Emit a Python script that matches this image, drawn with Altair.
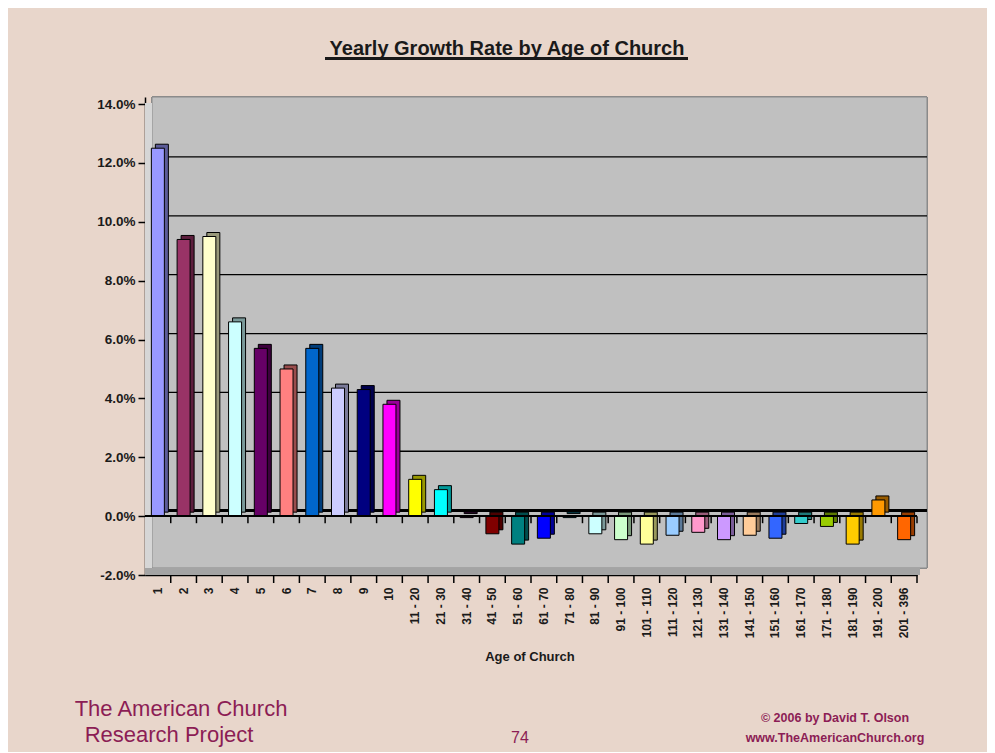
import altair as alt
import pandas as pd

categories = ["1", "2", "3", "4", "5", "6", "7", "8", "9", "10",
              "11 - 20", "21 - 30", "31 - 40", "41 - 50", "51 - 60", "61 - 70",
              "71 - 80", "81 - 90", "91 - 100", "101 - 110", "111 - 120",
              "121 - 130", "131 - 140", "141 - 150", "151 - 160", "161 - 170",
              "171 - 180", "181 - 190", "191 - 200", "201 - 396"]
growth = [0.125, 0.094, 0.095, 0.066, 0.057, 0.050, 0.057, 0.0435, 0.043, 0.038,
          0.0125, 0.009, -0.0005, -0.006, -0.0095, -0.0075, -0.0005, -0.006, -0.008,
          -0.0095, -0.0065, -0.0055, -0.008, -0.0065, -0.0075, -0.0025, -0.0035,
          -0.0095, 0.0055, -0.008]
colors = ["#9999FF", "#993366", "#FFFFCC", "#CCFFFF", "#660066", "#FF8080", "#0066CC",
          "#CCCCFF", "#000080", "#FF00FF", "#FFFF00", "#00FFFF", "#800080", "#800000",
          "#008080", "#0000FF", "#00CCFF", "#CCFFFF", "#CCFFCC", "#FFFF99", "#99CCFF",
          "#FF99CC", "#CC99FF", "#FFCC99", "#3366FF", "#33CCCC", "#99CC00", "#FFCC00",
          "#FF9900", "#FF6600"]
y_ticks = [-0.02, 0.0, 0.02, 0.04, 0.06, 0.08, 0.10, 0.12, 0.14]
grid_levels = [0.02, 0.04, 0.06, 0.08, 0.10, 0.12]

title_text = "Yearly Growth Rate by Age of Church"
x_title = "Age of Church"
footer_left = ["The American Church", "Research Project"]
page_number = "74"
footer_right = ["\u00a9 2006 by David T. Olson", "www.TheAmericanChurch.org"]

W, H = 772, 478
STEP = W / len(categories)
FONT = "Liberation Sans"
MAROON = "#8C1D55"

df = pd.DataFrame({"cat": categories, "val": growth})
grid_df = pd.DataFrame({"g": grid_levels})

x_enc = alt.X("cat:N", sort=categories, title=None,
              scale=alt.Scale(paddingInner=0.5, paddingOuter=0.25),
              axis=alt.Axis(labelAngle=270, labelAlign="right", labelBaseline="middle",
                            labelFont=FONT, labelFontSize=12, labelFontWeight="bold",
                            labelColor="#1a1a1a", labelPadding=12, ticks=False,
                            domainColor="black", domainWidth=1.5, grid=False))
y_scale = alt.Scale(domain=[-0.02, 0.1424], nice=False, zero=False)
y_enc = alt.Y("val:Q", scale=y_scale, title=None,
              axis=alt.Axis(values=y_ticks,
                            labelExpr="replace(format(datum.value, '.1%'), '\u2212', '-')",
                            labelFont=FONT,
                            labelFontSize=13.5, labelFontWeight="bold", labelColor="#1a1a1a",
                            tickSize=7, tickColor="black", tickWidth=1.5, labelPadding=3,
                            domainColor="black", domainWidth=1.5, grid=False))
color_enc = alt.Color("cat:N", sort=categories,
                      scale=alt.Scale(domain=categories, range=colors), legend=None)

# 3D wall decorations
wall = alt.Chart(df).mark_rect(color="#C0C0C0", stroke="#8a8a8a", strokeWidth=1).encode(
    x=alt.value(7), x2=alt.value(782), y=alt.value(0), y2=alt.value(471))
side = alt.Chart(df).mark_rect(color="#D6D6D6").encode(
    x=alt.value(0), x2=alt.value(7), y=alt.value(6), y2=alt.value(478))
floor = alt.Chart(df).mark_rect(color="#A4A4A4").encode(
    x=alt.value(0), x2=alt.value(775), y=alt.value(471), y2=alt.value(478))

grid = alt.Chart(grid_df).mark_rule(color="black", strokeWidth=1.3, yOffset=-6).encode(
    y=alt.Y("g:Q", scale=y_scale), x=alt.value(7), x2=alt.value(782))
zero_back = alt.Chart(df).mark_rule(color="black", strokeWidth=2, yOffset=-6).encode(
    y=alt.datum(0, scale=y_scale), x=alt.value(7), x2=alt.value(782))

bar_side = alt.Chart(df).mark_bar(size=13, xOffset=4, yOffset=-4, stroke="black",
                                  strokeWidth=1).encode(x=x_enc, y=y_enc, color=color_enc)
bar_shade = alt.Chart(df).mark_bar(size=13, xOffset=4, yOffset=-4, color="black",
                                   opacity=0.4).encode(x=x_enc, y=y_enc)
bar_front = alt.Chart(df).mark_bar(size=13, stroke="black", strokeWidth=1).encode(
    x=x_enc, y=y_enc, color=color_enc)

zero_front = alt.Chart(df).mark_rule(color="black", strokeWidth=1.5).encode(
    y=alt.datum(0, scale=y_scale), x=alt.value(0), x2=alt.value(W))
zero_ticks = alt.Chart(df).mark_rule(color="black", strokeWidth=1.5, xOffset=STEP / 2).encode(
    x=alt.X("cat:N", sort=categories), y=alt.datum(0, scale=y_scale), y2=alt.datum(-0.0024))
bottom_ticks = alt.Chart(df).mark_rule(color="black", strokeWidth=1.5, xOffset=STEP / 2).encode(
    x=alt.X("cat:N", sort=categories), y=alt.value(H), y2=alt.value(H + 8))

def text(t, x, y, size, color="#1a1a1a", weight="normal"):
    return alt.Chart(pd.DataFrame({"t": [t]})).mark_text(
        font=FONT, fontSize=size, fontWeight=weight, color=color,
        align="center", baseline="middle").encode(
        text="t:N", x=alt.value(x), y=alt.value(y))

title = text(title_text, 362, -48, 20, "#1a1a1a", "bold")
underline = alt.Chart(df).mark_rule(color="#1a1a1a", strokeWidth=1.6).encode(
    x=alt.value(180), x2=alt.value(543), y=alt.value(-38.5))
xtitle = text(x_title, 385, 560, 13, "#1a1a1a", "bold")
f1 = text(footer_left[0], 36, 612, 22, MAROON)
f2 = text(footer_left[1], 24, 638, 22, MAROON)
f3 = text(page_number, 375, 641, 16, MAROON)
f4 = text(footer_right[0], 690, 621, 12.5, MAROON, "bold")
f5 = text(footer_right[1], 690, 641, 12.5, MAROON, "bold")

chart = alt.layer(
    wall, side, floor, grid, zero_back, bar_side, bar_shade, bar_front,
    zero_front, zero_ticks, bottom_ticks, title, underline, xtitle, f1, f2, f3, f4, f5
).properties(
    width=W, height=H, autosize="none",
    padding={"left": 137, "top": 89, "right": 70, "bottom": 177},
    background="#E8D6CB"
).configure_view(stroke=None)

chart.save("out.html", embed_options={"renderer": "svg", "actions": False})
